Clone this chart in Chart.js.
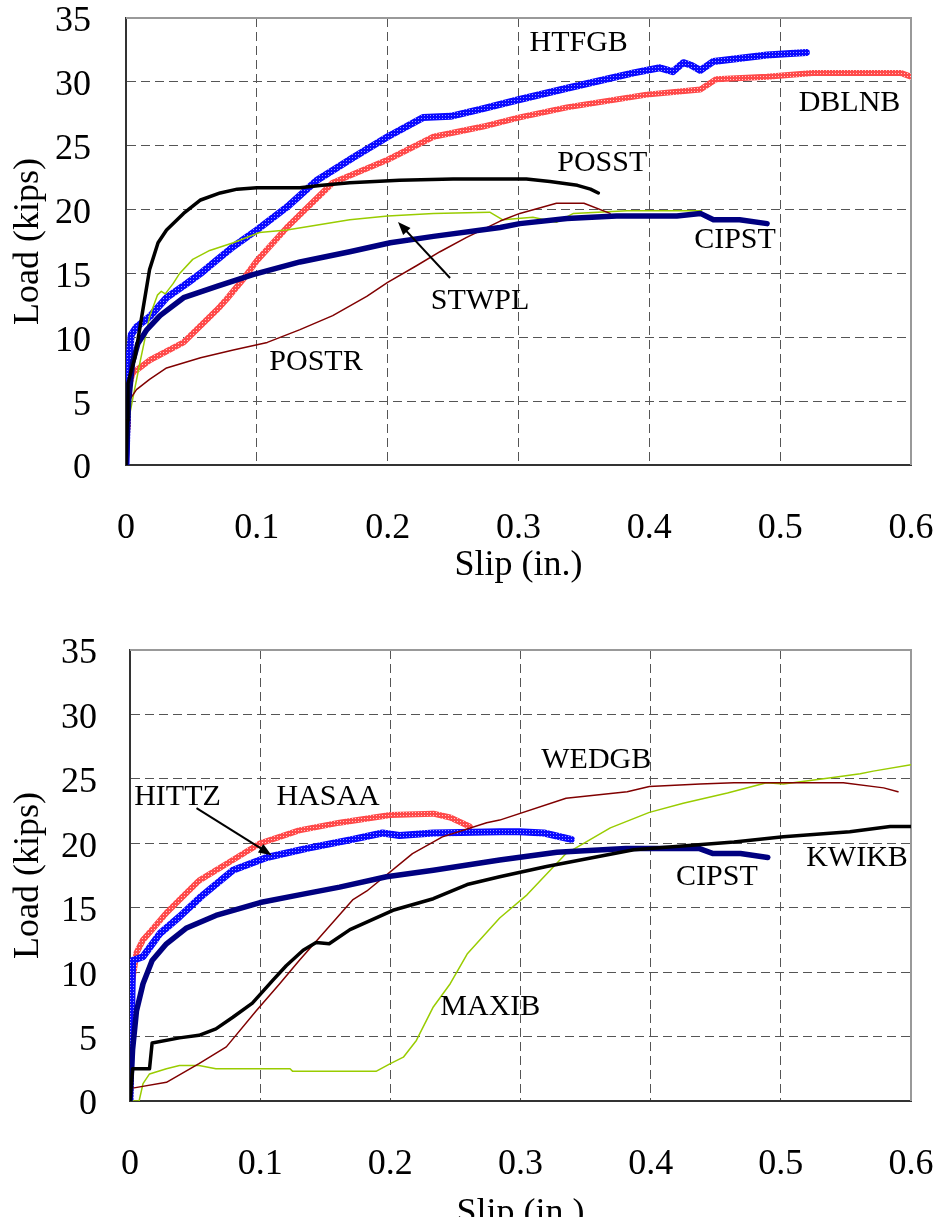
<!DOCTYPE html>
<html>
<head>
<meta charset="utf-8">
<script src="https://cdn.jsdelivr.net/npm/chart.js@4/dist/chart.umd.min.js"></script>
<style>
  html, body { margin: 0; padding: 0; background: #fff; overflow: hidden; }
  #wrap { position: relative; width: 940px; height: 1217px; }
  canvas { position: absolute; left: 0; }
</style>
</head>
<body>
<div id="wrap">
  <canvas id="topChart" width="940" height="610" style="top:0"></canvas>
  <canvas id="bottomChart" width="940" height="648" style="top:610px"></canvas>
</div>
<script>
// axis ticks
const slipTicks = [0, 0.1, 0.2, 0.3, 0.4, 0.5, 0.6];
const slipTickLabels = ['0', '0.1', '0.2', '0.3', '0.4', '0.5', '0.6'];
const loadTicks = [0, 5, 10, 15, 20, 25, 30, 35];

// top panel, [slip (in.), load (kips)]
const HTFGB = [[0,0],[0.001,4],[0.002,8],[0.004,10.2],[0.008,10.8],[0.018,11.6],[0.031,13.1],[0.045,14.1],[0.057,15.0],[0.07,16.1],[0.082,17.1],[0.1,18.4],[0.123,20.2],[0.146,22.3],[0.174,24.1],[0.2,25.7],[0.227,27.2],[0.248,27.3],[0.273,27.9],[0.3,28.6],[0.337,29.5],[0.388,30.7],[0.408,31.1],[0.418,30.8],[0.426,31.5],[0.432,31.3],[0.439,30.9],[0.449,31.6],[0.49,32.1],[0.52,32.3]];
const DBLNB = [[0,0],[0.001,3],[0.0015,5.9],[0.005,7.2],[0.018,8.2],[0.044,9.6],[0.07,12.2],[0.077,13.0],[0.09,14.6],[0.1,16.0],[0.123,18.6],[0.158,22.1],[0.2,23.9],[0.235,25.7],[0.273,26.5],[0.3,27.2],[0.337,28.0],[0.398,29.0],[0.439,29.4],[0.451,30.2],[0.49,30.4],[0.525,30.7],[0.592,30.7],[0.6,30.4]];
const POSST = [[0,0],[0.001,3.5],[0.0015,6.4],[0.007,8.5],[0.012,11.6],[0.018,15.3],[0.0245,17.4],[0.031,18.4],[0.044,19.7],[0.057,20.75],[0.072,21.3],[0.085,21.6],[0.1,21.7],[0.133,21.7],[0.15,21.9],[0.171,22.1],[0.209,22.3],[0.25,22.4],[0.306,22.4],[0.324,22.2],[0.345,21.9],[0.355,21.6],[0.361,21.3]];
const POSTR = [[0,0],[0.0005,3],[0.0015,4.9],[0.008,5.9],[0.018,6.7],[0.031,7.6],[0.057,8.4],[0.082,9.0],[0.108,9.6],[0.133,10.6],[0.158,11.7],[0.184,13.2],[0.2,14.3],[0.222,15.6],[0.24,16.7],[0.26,17.8],[0.286,19.1],[0.301,19.7],[0.329,20.5],[0.35,20.5],[0.37,19.7]];
const STWPL = [[0,0],[0.001,3],[0.005,5.1],[0.011,8.2],[0.018,11.6],[0.024,13.3],[0.027,13.6],[0.03,13.4],[0.036,14.2],[0.041,15.0],[0.051,16.1],[0.064,16.8],[0.082,17.4],[0.102,18.2],[0.123,18.4],[0.171,19.2],[0.2,19.5],[0.235,19.7],[0.278,19.8],[0.288,19.2],[0.311,19.4],[0.329,19.0],[0.342,19.7],[0.383,19.9],[0.44,19.9]];
const CIPST_A = [[0,0],[0.002,5],[0.005,8],[0.009,9.5],[0.016,10.6],[0.026,11.7],[0.044,13.1],[0.07,14.0],[0.097,14.9],[0.133,15.9],[0.171,16.7],[0.202,17.4],[0.235,17.9],[0.286,18.6],[0.301,18.9],[0.337,19.3],[0.375,19.5],[0.421,19.5],[0.439,19.7],[0.449,19.2],[0.469,19.2],[0.49,18.9]];

// bottom panel
const HASAA = [[0,0],[0.001,8.8],[0.005,11.5],[0.01,12.5],[0.017,13.3],[0.028,14.6],[0.038,15.6],[0.053,17.1],[0.079,18.7],[0.1,20.0],[0.13,21.0],[0.161,21.6],[0.2,22.2],[0.233,22.3],[0.246,22.0],[0.261,21.3]];
const HITTZ = [[0,0],[0.002,10.9],[0.01,11.2],[0.023,13.0],[0.038,14.3],[0.055,15.9],[0.079,17.9],[0.105,18.9],[0.136,19.6],[0.171,20.3],[0.194,20.8],[0.207,20.6],[0.233,20.8],[0.284,20.9],[0.299,20.9],[0.318,20.8],[0.339,20.3]];
const CIPST_B = [[0,0],[0.002,4],[0.005,7.0],[0.01,9.1],[0.017,10.9],[0.028,12.2],[0.043,13.4],[0.066,14.4],[0.1,15.4],[0.13,16.0],[0.161,16.6],[0.197,17.4],[0.233,17.9],[0.284,18.7],[0.328,19.3],[0.381,19.6],[0.437,19.6],[0.448,19.2],[0.469,19.2],[0.49,18.9]];
const KWIKB = [[0,0],[0.002,2.5],[0.015,2.5],[0.017,4.5],[0.038,4.9],[0.053,5.1],[0.066,5.6],[0.079,6.5],[0.094,7.6],[0.11,9.4],[0.12,10.5],[0.133,11.7],[0.143,12.3],[0.153,12.2],[0.169,13.3],[0.202,14.8],[0.233,15.7],[0.259,16.8],[0.284,17.4],[0.32,18.2],[0.387,19.5],[0.464,20.1],[0.502,20.5],[0.553,20.9],[0.584,21.3],[0.6,21.3]];
const WEDGB = [[0,0],[0.001,0.8],[0.002,1.0],[0.028,1.45],[0.053,2.9],[0.074,4.2],[0.097,7.0],[0.115,9.1],[0.13,10.9],[0.151,13.3],[0.171,15.6],[0.182,16.3],[0.217,19.2],[0.24,20.5],[0.274,21.6],[0.284,21.8],[0.335,23.5],[0.382,24.0],[0.399,24.4],[0.438,24.6],[0.464,24.7],[0.548,24.7],[0.579,24.3],[0.59,24.0]];
const MAXIB = [[0,0],[0.007,0],[0.01,1.35],[0.015,2.1],[0.028,2.5],[0.038,2.75],[0.053,2.75],[0.066,2.5],[0.123,2.5],[0.125,2.3],[0.189,2.3],[0.2,2.9],[0.21,3.4],[0.22,4.7],[0.233,7.3],[0.246,9.1],[0.259,11.4],[0.284,14.2],[0.305,16.0],[0.335,19.2],[0.369,21.2],[0.399,22.4],[0.425,23.1],[0.459,23.9],[0.489,24.7],[0.502,24.6],[0.54,25.1],[0.561,25.4],[0.571,25.6],[0.6,26.1]];

// curve labels [text, slip, load] and arrows [fromSlip, fromLoad, toSlip, toLoad]
const topLabels = [['HTFGB',0.346,33.0],['DBLNB',0.553,28.35],['POSST',0.364,23.65],['CIPST',0.4655,17.6],['STWPL',0.2706,12.85],['POSTR',0.1452,8.07]];
const topArrows = [[0.2477,14.64,0.2079,19.03]];
const bottomLabels = [['HITTZ',0.0365,23.58],['HASAA',0.1522,23.58],['WEDGB',0.3582,26.45],['KWIKB',0.5585,18.84],['CIPST',0.4509,17.36],['MAXIB',0.2768,7.27]];
const bottomArrows = [[0.0511,22.73,0.1088,19.08]];

const FONT = 'Liberation Serif, Times New Roman, serif';

function hatch(base, light) {
  const t = document.createElement('canvas');
  t.width = 3; t.height = 3;
  const c = t.getContext('2d');
  c.fillStyle = base; c.fillRect(0, 0, 3, 3);
  c.fillStyle = light; c.fillRect(1, 1, 1, 1);
  return c.createPattern(t, 'repeat');
}
const bluePat = hatch('#0a0aff', '#9a9aff');
const pinkPat = hatch('#ff4a4a', '#ffc8c8');

function pts(arr) { return arr.map(p => ({ x: p[0], y: p[1] })); }

function line(label, arr, color, width) {
  return { label, data: pts(arr), borderColor: color, borderWidth: width,
    pointRadius: 0, fill: false, tension: 0, borderJoinStyle: 'round', borderCapStyle: 'round' };
}

// fixed axis size, no extra room for overhanging labels
function fixSize(prop, val) {
  return s => {
    s[prop] = val;
    s.paddingTop = 0; s.paddingBottom = 0; s.paddingLeft = 0; s.paddingRight = 0;
  };
}

const annotate = {
  id: 'annotate',
  beforeDatasetsDraw(chart) {
    const a = chart.chartArea, ctx = chart.ctx;
    ctx.save();
    ctx.strokeStyle = '#999';
    ctx.lineWidth = 2;
    ctx.beginPath();
    ctx.moveTo(a.left, a.top); ctx.lineTo(a.right, a.top); ctx.lineTo(a.right, a.bottom);
    ctx.stroke();
    ctx.restore();
  },
  afterDatasetsDraw(chart, args, opts) {
    const ctx = chart.ctx, xs = chart.scales.x, ys = chart.scales.y;
    ctx.save();
    ctx.fillStyle = '#000';
    ctx.font = '30px ' + FONT;
    ctx.textAlign = 'center';
    ctx.textBaseline = 'middle';
    opts.labels.forEach(l => ctx.fillText(l[0], xs.getPixelForValue(l[1]), ys.getPixelForValue(l[2])));
    opts.arrows.forEach(r => {
      const x1 = xs.getPixelForValue(r[0]), y1 = ys.getPixelForValue(r[1]);
      const x2 = xs.getPixelForValue(r[2]), y2 = ys.getPixelForValue(r[3]);
      const ang = Math.atan2(y2 - y1, x2 - x1);
      ctx.strokeStyle = '#000'; ctx.lineWidth = 2;
      ctx.beginPath(); ctx.moveTo(x1, y1);
      ctx.lineTo(x2 - 8 * Math.cos(ang), y2 - 8 * Math.sin(ang)); ctx.stroke();
      ctx.beginPath();
      ctx.moveTo(x2, y2);
      ctx.lineTo(x2 - 13 * Math.cos(ang) + 5 * Math.sin(ang), y2 - 13 * Math.sin(ang) - 5 * Math.cos(ang));
      ctx.lineTo(x2 - 13 * Math.cos(ang) - 5 * Math.sin(ang), y2 - 13 * Math.sin(ang) + 5 * Math.cos(ang));
      ctx.closePath(); ctx.fill();
    });
    ctx.restore();
  }
};

function makeChart(id, datasets, labels, arrows, g) {
  return new Chart(document.getElementById(id), {
    type: 'line',
    data: { datasets },
    plugins: [annotate],
    options: {
      responsive: false,
      animation: false,
      layout: { padding: { top: g.top, right: 29, left: 0, bottom: 0 } },
      plugins: { legend: { display: false }, tooltip: { enabled: false }, annotate: { labels, arrows } },
      scales: {
        x: {
          type: 'linear', min: 0, max: 0.6,
          afterBuildTicks: s => { s.ticks = slipTicks.map(v => ({ value: v })); },
          afterFit: fixSize('height', g.xh),
          ticks: { color: '#000', font: { family: FONT, size: 36 }, padding: 42, maxRotation: 0,
            callback: (v, i) => slipTickLabels[i] },
          grid: { color: '#555', lineWidth: 1, drawTicks: false },
          border: { display: true, color: '#333', width: 2, dash: [9, 5] },
          title: { display: true, text: 'Slip (in.)', color: '#000', font: { family: FONT, size: 36 },
            padding: { top: 0, bottom: 23 } }
        },
        y: {
          min: 0, max: 35,
          afterBuildTicks: s => { s.ticks = loadTicks.map(v => ({ value: v })); },
          afterFit: fixSize('width', g.yw),
          ticks: { color: '#000', font: { family: FONT, size: 36 }, padding: g.yp, labelOffset: 4 },
          grid: { color: '#555', lineWidth: 1, drawTicks: false },
          border: { display: true, color: '#333', width: 2, dash: [9, 5] },
          title: { display: true, text: 'Load (kips)', color: '#000', font: { family: FONT, size: 36 },
            padding: { top: 7, bottom: 0 } }
        }
      }
    }
  });
}

makeChart('topChart', [
  line('POSST', POSST, '#000', 3.5),
  line('CIPST', CIPST_A, '#000080', 5.5),
  line('POSTR', POSTR, '#800000', 1.5),
  line('STWPL', STWPL, '#99cc00', 1.5),
  line('HTFGB', HTFGB, bluePat, 7),
  line('DBLNB', DBLNB, pinkPat, 6)
], topLabels, topArrows, { top: 18, xh: 145, yw: 126, yp: 35 });

makeChart('bottomChart', [
  line('KWIKB', KWIKB, '#000', 3.5),
  line('CIPST', CIPST_B, '#000080', 5.5),
  line('WEDGB', WEDGB, '#800000', 1.5),
  line('MAXIB', MAXIB, '#99cc00', 1.5),
  line('HITTZ', HITTZ, bluePat, 7),
  line('HASAA', HASAA, pinkPat, 6)
], bottomLabels, bottomArrows, { top: 40, xh: 157, yw: 130, yp: 33 });
</script>
</body>
</html>
